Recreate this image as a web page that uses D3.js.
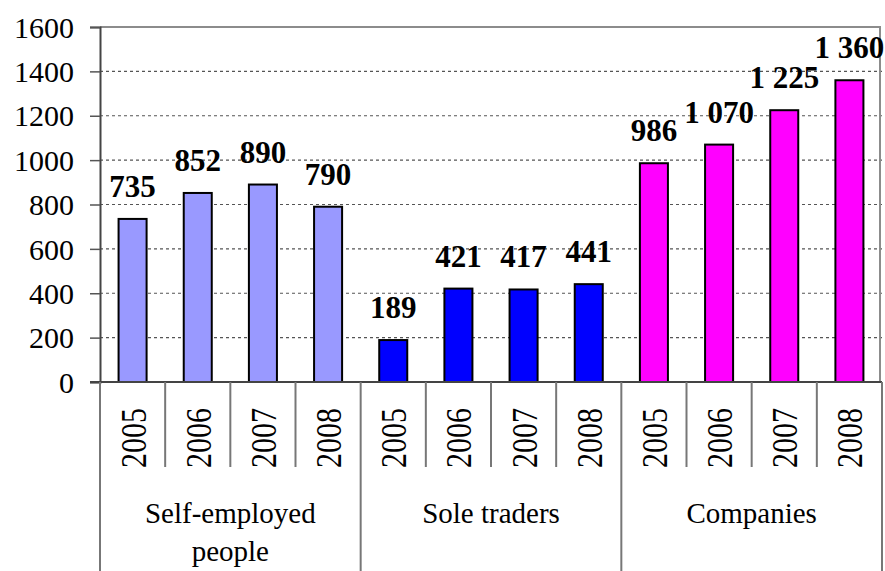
<!DOCTYPE html>
<html>
<head>
<meta charset="utf-8">
<script src="https://cdn.jsdelivr.net/npm/d3@7"></script>
</head>
<body style="margin:0">
<svg id="chart" width="885" height="571" font-family="Liberation Serif"></svg>
<script>
var groups = ["Self-employed people", "Sole traders", "Companies"];
var years = ["2005", "2006", "2007", "2008"];
var selfEmployed = [735, 852, 890, 790];
var soleTraders = [189, 421, 417, 441];
var companies = [986, 1070, 1225, 1360];
var groupColors = ["#9999ff", "#0000ff", "#ff00ff"];
var yTicks = [0, 200, 400, 600, 800, 1000, 1200, 1400, 1600];

var FONT = "Liberation Serif";

var svg = d3.select("#chart"),
    margin = { left: 100, right: 3, top: 27, bottom: 189 },
    width = 885 - margin.left - margin.right,
    height = 571 - margin.top - margin.bottom;

// flat list of bars
var series = [selfEmployed, soleTraders, companies],
    rows = [];
series.forEach(function (vals, g) {
  vals.forEach(function (v, i) {
    rows.push({ key: g + "-" + years[i], group: g, year: years[i], value: v });
  });
});

var x = d3.scaleBand()
          .domain(rows.map(function (d) { return d.key; }))
          .range([margin.left, margin.left + width])
          .paddingInner(0).paddingOuter(0);

var y = d3.scaleLinear()
          .domain([0, 1600])
          .range([margin.top + height, margin.top]);

// "1 070" style thousands
var fmt = function (v) {
  return v >= 1000 ? Math.floor(v / 1000) + " " + d3.format("03d")(v % 1000) : String(v);
};

// gridlines
svg.append("g").selectAll("line").data(yTicks.filter(function (t) { return t > 0 && t < 1600; }))
   .enter().append("line")
   .attr("x1", margin.left).attr("x2", margin.left + width)
   .attr("y1", function (d) { return y(d); }).attr("y2", function (d) { return y(d); })
   .attr("stroke", "#555").attr("stroke-width", 1.2)
   .attr("stroke-dasharray", "3,3");

// plot border (top/right)
svg.append("path")
   .attr("d", "M" + margin.left + "," + y(1600) + "H" + (margin.left + width - 2) + "V" + y(0))
   .attr("fill", "none").attr("stroke", "#8c8c8c").attr("stroke-width", 2);

// bars
svg.append("g").selectAll("rect").data(rows).enter()
   .append("rect")
   .attr("x", function (d) { return x(d.key) + x.bandwidth() * 0.285; })
   .attr("width", x.bandwidth() * 0.43)
   .attr("y", function (d) { return y(d.value); })
   .attr("height", function (d) { return y(0) - y(d.value); })
   .attr("fill", function (d) { return groupColors[d.group]; })
   .attr("stroke", "#000").attr("stroke-width", 2);

// value labels
svg.append("g").selectAll("text").data(rows).enter()
   .append("text")
   .attr("x", function (d) { return x(d.key) + x.bandwidth() / 2; })
   .attr("y", function (d) { return y(d.value) - 22; })
   .attr("text-anchor", "middle")
   .style("font-family", FONT)
   .style("font-size", "31px").style("font-weight", "bold")
   .text(function (d) { return fmt(d.value); });

// y axis
var yAxis = d3.axisLeft(y).tickValues(yTicks).tickFormat(d3.format("d"))
              .tickSize(10).tickPadding(16);
var ya = svg.append("g")
   .attr("transform", "translate(" + margin.left + ",0)")
   .call(yAxis);
ya.attr("font-family", FONT).attr("font-size", 30);
ya.select(".domain").attr("stroke", "#444").attr("stroke-width", 2);
ya.selectAll(".tick line").attr("stroke", "#555").attr("stroke-width", 1.5);
ya.selectAll(".tick text").attr("fill", "#000").attr("dy", "0.34em")
  .style("font-family", FONT);

// x axis line
svg.append("line")
   .attr("x1", margin.left - 10).attr("x2", margin.left + width)
   .attr("y1", y(0)).attr("y2", y(0))
   .attr("stroke", "#444").attr("stroke-width", 2);

// year ticks inside groups, group separators all the way down
var bw = x.bandwidth();
svg.append("g").selectAll("line").data(rows).enter()
   .append("line")
   .attr("x1", function (d) { return x(d.key); })
   .attr("x2", function (d) { return x(d.key); })
   .attr("y1", y(0))
   .attr("y2", function (d) { return d.year === years[0] ? 571 : y(0) + 85; })
   .attr("stroke", "#777").attr("stroke-width", 2);
svg.append("line")
   .attr("x1", margin.left + width).attr("x2", margin.left + width)
   .attr("y1", y(0)).attr("y2", 571)
   .attr("stroke", "#777").attr("stroke-width", 2);

// year labels (rotated)
svg.append("g").selectAll("text").data(rows).enter()
   .append("text")
   .attr("transform", function (d) {
     return "translate(" + (x(d.key) + bw / 2 + 13) + "," + (y(0) + 26) + ") rotate(-90) scale(1,1.2)";
   })
   .attr("text-anchor", "end")
   .style("font-family", FONT)
   .style("font-size", "30px")
   .text(function (d) { return d.year; });

// group labels
var groupLines = [["Self-employed", "people"], ["Sole traders"], ["Companies"]];
groups.forEach(function (g, gi) {
  var x0 = x(gi + "-" + years[0]),
      x1 = x(gi + "-" + years[3]) + bw,
      cx = (x0 + x1) / 2;
  var t = svg.append("text")
     .attr("x", cx).attr("y", 523)
     .attr("text-anchor", "middle")
     .style("font-family", FONT)
     .style("font-size", "29px");
  groupLines[gi].forEach(function (line, li) {
    t.append("tspan").attr("x", cx).attr("dy", li === 0 ? 0 : 38).text(line);
  });
});
</script>
</body>
</html>
